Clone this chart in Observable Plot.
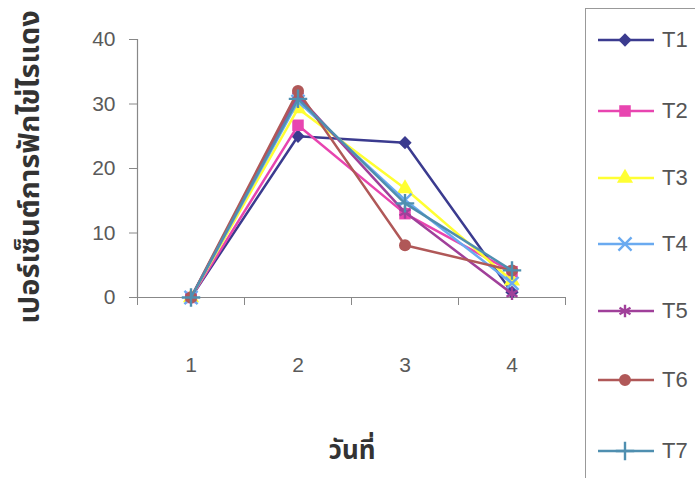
<!DOCTYPE html>
<html>
<head>
<meta charset="utf-8">
<script src="https://cdn.jsdelivr.net/npm/d3@7"></script>
<script src="https://cdn.jsdelivr.net/npm/@observablehq/plot@0.6"></script>
<style>
  html, body { margin: 0; padding: 0; background: #fff; }
  #wrap { position: relative; width: 695px; height: 478px; overflow: hidden; font-family: "Liberation Sans", Arial, sans-serif; }
  #chart { position: absolute; left: 0; top: 0; }
  #chart svg text { fill: #5a5a5a; }
  .ytitle { position: absolute; left: 30px; top: 167px; transform: translate(-50%, -50%) rotate(-90deg); white-space: nowrap; font-weight: bold; font-size: 29px; line-height: 1.2; color: #333; font-family: "Noto Sans Thai", "Noto Sans", "DejaVu Sans", sans-serif; }
  .xtitle { position: absolute; left: 352px; top: 452px; transform: translate(-50%, -50%); white-space: nowrap; font-weight: bold; font-size: 26px; line-height: 1.2; color: #333; font-family: "Noto Sans Thai", "Noto Sans", "DejaVu Sans", sans-serif; }
  #legend { position: absolute; left: 585px; top: 8px; width: 130px; height: 490px; border: 1px solid #999; box-sizing: border-box; }
  .item { position: absolute; left: 10px; height: 24px; display: flex; align-items: center; font-size: 22px; color: #555; }
  .item svg { margin-right: 8px; }
</style>
</head>
<body>
<div id="wrap">
  <div id="chart"></div>
  <div class="ytitle">เปอร์เซ็นต์การฟักไข่ไรแดง</div>
  <div class="xtitle">วันที่</div>
  <div id="legend"></div>
</div>
<script>
const days = [1, 2, 3, 4];
const seriesNames = ["T1", "T2", "T3", "T4", "T5", "T6", "T7"];
const T1 = [0, 25.0, 24.0, 0.8];
const T2 = [0, 26.7, 13.0, 4.0];
const T3 = [0, 29.3, 16.9, 2.6];
const T4 = [0, 30.4, 15.1, 2.2];
const T5 = [0, 31.3, 13.2, 0.6];
const T6 = [0, 32.0, 8.1, 4.2];
const T7 = [0, 30.8, 14.6, 4.2];
const yTicks = [0, 10, 20, 30, 40];
const colors = ["#3b3b8f", "#e845b0", "#ffff33", "#6aaaf0", "#a0409a", "#b05858", "#4f8fb0"];
const symbols = ["diamond2", "square", "triangle", "times", "asterisk", "circle", "plus"];
const filled = [true, true, true, false, false, true, false];
const d3symbols = [d3.symbolDiamond2, d3.symbolSquare, d3.symbolTriangle, d3.symbolTimes, d3.symbolAsterisk, d3.symbolCircle, d3.symbolPlus];

const values = [T1, T2, T3, T4, T5, T6, T7];
const rows = [];
seriesNames.forEach((s, i) => days.forEach((d, j) => rows.push({series: s, idx: i, day: d, value: values[i][j]})));

const marks = [
  Plot.ruleY([0], {stroke: "#888", strokeWidth: 1.2}),
  Plot.ruleX([0.5], {stroke: "#888", strokeWidth: 1.2}),
  Plot.axisY({ticks: yTicks, tickSize: 8, tickPadding: 14, fontSize: 21, stroke: "#888", label: null}),
  Plot.axisX({ticks: [0.5, 1.5, 2.5, 3.5, 4.5], tickFormat: () => "", tickSize: 8, stroke: "#888", label: null}),
  Plot.axisX({ticks: days, tickFormat: d3.format("d"), tickSize: 0, tickPadding: 60, fontSize: 21, label: null})
];
seriesNames.forEach((s, i) => {
  const data = rows.filter(r => r.series === s);
  marks.push(Plot.line(data, {x: "day", y: "value", stroke: colors[i], strokeWidth: 2.5}));
  marks.push(Plot.dot(data, filled[i]
    ? {x: "day", y: "value", symbol: () => symbols[i], r: i === 1 ? 6.5 : 6, fill: colors[i], stroke: "none"}
    : {x: "day", y: "value", symbol: () => symbols[i], r: 6, stroke: colors[i], strokeWidth: 2.4, fill: "none"}));
});

const chart = Plot.plot({
  width: 585,
  height: 478,
  marginLeft: 137,
  marginRight: 20,
  marginTop: 39,
  marginBottom: 181,
  style: {fontFamily: "'Liberation Sans', Arial, sans-serif", background: "transparent"},
  x: {type: "linear", domain: [0.5, 4.5]},
  y: {domain: [0, 40]},
  symbol: {type: "identity"},
  marks
});
document.getElementById("chart").appendChild(chart);

const legend = document.getElementById("legend");
const tops = [39, 110, 177, 243, 310, 379, 450];
seriesNames.forEach((s, i) => {
  const item = document.createElement("div");
  item.className = "item";
  item.style.top = (tops[i] - 12 - 8) + "px";
  const svg = d3.create("svg").attr("width", 58).attr("height", 24);
  svg.append("line").attr("x1", 2).attr("x2", 58).attr("y1", 12).attr("y2", 12).attr("stroke", colors[i]).attr("stroke-width", 2.5);
  const size = i === 1 ? 133 : 113;
  svg.append("path").attr("transform", "translate(29,12)")
    .attr("d", d3.symbol(d3symbols[i], size)())
    .attr("fill", filled[i] ? colors[i] : "none")
    .attr("stroke", filled[i] ? "none" : colors[i])
    .attr("stroke-width", 2.4);
  item.appendChild(svg.node());
  const label = document.createElement("span");
  label.textContent = s;
  item.appendChild(label);
  legend.appendChild(item);
});
</script>
</body>
</html>
